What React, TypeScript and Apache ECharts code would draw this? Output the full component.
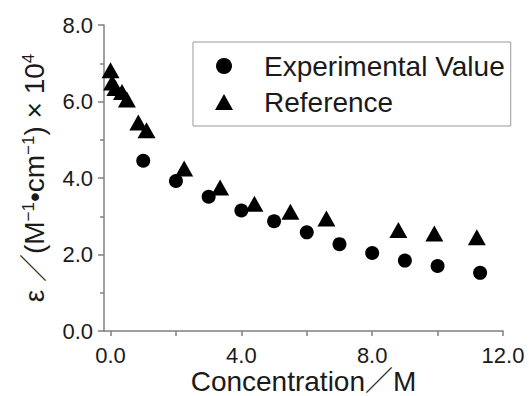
import React, { useEffect, useRef } from "react";
import * as echarts from "echarts";

const expConc = [1.0, 2.0, 3.0, 4.0, 5.0, 6.0, 7.0, 8.0, 9.0, 10.0, 11.3];
const expEps = [4.45, 3.92, 3.51, 3.15, 2.87, 2.58, 2.27, 2.04, 1.84, 1.7, 1.52];
const refConc = [0, 0.05, 0.15, 0.35, 0.5, 0.85, 1.1, 2.25, 3.35, 4.4, 5.5, 6.6, 8.8, 9.9, 11.2];
const refEps = [6.82, 6.5, 6.35, 6.25, 6.05, 5.45, 5.25, 4.25, 3.75, 3.33, 3.12, 2.94, 2.64, 2.55, 2.45];
const xLabelValues = [0, 4, 8, 12];
const xTickValues = [0, 2, 4, 6, 8, 10, 12];
const yLabelValues = [0, 2, 4, 6, 8];
const seriesNames = ["Experimental Value", "Reference"];

const FONT = "'Liberation Sans', Arial, 'Noto Sans CJK JP', sans-serif";
const TXT = "#1a1a1a";
const AX = "#808080";

export default function App() {
  const ref = useRef<HTMLDivElement>(null);
  useEffect(() => {
    if (!ref.current) return;
    const chart = echarts.init(ref.current, null, { renderer: "svg" });
    chart.setOption({
      animation: false,
      backgroundColor: "#ffffff",
      textStyle: { fontFamily: FONT },
      grid: { left: 104, right: 26, top: 25, bottom: 65, containLabel: false, outerBoundsMode: "none" },
      legend: {
        orient: "vertical",
        left: 193,
        top: 42,
        padding: [10, 6, 10, 22],
        itemGap: 8,
        itemWidth: 18,
        itemHeight: 16,
        borderColor: "#999999",
        borderWidth: 1,
        textStyle: { fontSize: 28, color: TXT, fontFamily: FONT, padding: [0, 0, 0, 26] },
        data: [
          { name: seriesNames[0], icon: "circle" },
          { name: seriesNames[1], icon: "triangle" },
        ],
      },
      xAxis: {
        type: "value",
        min: -0.2,
        max: 12,
        name: "Concentration／M",
        nameLocation: "middle",
        nameGap: 36,
        nameMoveOverlap: false,
        nameTextStyle: { fontSize: 28, color: TXT, fontFamily: FONT },
        axisLine: { show: true, onZero: false, lineStyle: { color: AX, width: 1.5 } },
        axisTick: { show: true, customValues: xTickValues, length: 5, lineStyle: { color: AX, width: 1.5 } },
        axisLabel: {
          customValues: xLabelValues,
          formatter: (v: number) => v.toFixed(1),
          fontSize: 22,
          color: TXT,
          margin: 13,
          fontFamily: FONT,
        },
        splitLine: { show: false },
      },
      yAxis: {
        type: "value",
        min: 0,
        max: 8,
        interval: 2,
        name: "{e|ε} ／(M{s|−1}•cm{s|−1}) × 10{s|4}",
        nameLocation: "middle",
        nameGap: 56,
        nameMoveOverlap: false,
        nameTextStyle: {
          fontSize: 28,
          color: TXT,
          fontFamily: FONT,
          rich: {
            e: { fontSize: 28, color: TXT, fontFamily: FONT },
            s: { fontSize: 17, color: TXT, fontFamily: FONT, verticalAlign: "top" },
          },
        },
        axisLine: { show: true, onZero: false, lineStyle: { color: AX, width: 1.5 } },
        axisTick: { show: true, length: 6, lineStyle: { color: AX, width: 1.5 } },
        minorTick: { show: true, splitNumber: 2, length: 4, lineStyle: { color: AX, width: 1.5 } },
        axisLabel: {
          customValues: yLabelValues,
          formatter: (v: number) => v.toFixed(1),
          fontSize: 22,
          color: TXT,
          margin: 11,
          fontFamily: FONT,
        },
        splitLine: { show: false },
        minorSplitLine: { show: false },
      },
      series: [
        {
          name: seriesNames[0],
          type: "scatter",
          symbol: "circle",
          symbolSize: 14,
          itemStyle: { color: "#000000", opacity: 1 },
          data: expConc.map((c, i) => [c, expEps[i]]),
          z: 3,
        },
        {
          name: seriesNames[1],
          type: "scatter",
          symbol: "triangle",
          symbolSize: [18, 16],
          itemStyle: { color: "#000000", opacity: 1 },
          data: refConc.map((c, i) => [c, refEps[i]]),
          z: 2,
        },
      ],
    });
    return () => chart.dispose();
  }, []);
  return (
    <div
      ref={ref}
      style={{ position: "fixed", left: 0, top: 0, width: 529, height: 396 }}
    />
  );
}
